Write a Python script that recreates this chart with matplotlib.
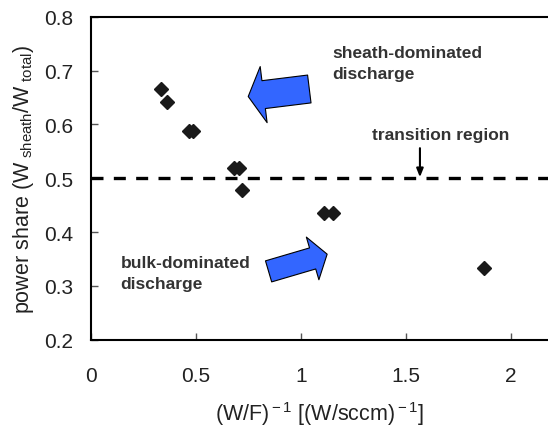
import matplotlib
matplotlib.use("Agg")
import matplotlib.pyplot as plt
from matplotlib.patches import FancyArrowPatch

plt.rcParams["font.family"] = ["Liberation Sans", "DejaVu Sans"]
plt.rcParams["mathtext.fontset"] = "custom"
plt.rcParams["mathtext.rm"] = "Liberation Sans"
plt.rcParams["mathtext.it"] = "Liberation Sans:italic"

# measured points
wf_inv = [0.333, 0.359, 0.464, 0.484, 0.680, 0.702, 0.717, 1.108, 1.154, 1.873]
share = [0.666, 0.641, 0.587, 0.587, 0.520, 0.520, 0.479, 0.436, 0.436, 0.333]

x_ticks = [0, 0.5, 1, 1.5, 2]
x_labels = ["0", "0.5", "1", "1.5", "2"]
y_ticks = [0.2, 0.3, 0.4, 0.5, 0.6, 0.7, 0.8]
y_labels = ["0.2", "0.3", "0.4", "0.5", "0.6", "0.7", "0.8"]
transition = 0.5

fig = plt.figure(figsize=(5.48, 4.31), dpi=100)
ax = fig.add_axes([0.1664, 0.2095, 0.8336, 0.749])

ax.plot(wf_inv, share, "D", ms=7.6, color="#1a1a1a", mec="#1a1a1a", zorder=5)
ax.axhline(transition, color="black", lw=2.4, dashes=(3.6, 3.1), zorder=3)

ax.set_xlim(0, 2.176)
ax.set_ylim(0.2, 0.8)
ax.set_xticks(x_ticks)
ax.set_xticklabels(x_labels)
ax.set_yticks(y_ticks)
ax.set_yticklabels(y_labels)
ax.tick_params(direction="in", length=5, width=1, color="#555555",
               labelsize=15, labelcolor="#222222")
ax.tick_params(axis="x", pad=19)
ax.tick_params(axis="y", pad=13)
for side in ["left", "bottom", "top"]:
    ax.spines[side].set_linewidth(1.5)
ax.spines["right"].set_visible(False)

ax.set_xlabel(r"(W/F)$^{\rm -1}$ [(W/sccm)$^{\rm -1}$]", fontsize=15.5,
              color="#222222", labelpad=10)
ax.set_ylabel(r"power share (W$_{\rm\ sheath}$/W$_{\rm\ total}$)", fontsize=15.5,
              color="#222222", labelpad=6)

# annotations
txt = dict(fontsize=12.5, fontweight="bold", color="#333333", ha="left", va="center",
           linespacing=1.5)
ax.text(1.15, 0.714, "sheath-dominated\ndischarge", **txt)
ax.text(0.14, 0.324, "bulk-dominated\ndischarge", **txt)
ax.text(1.34, 0.5805, "transition region", **txt)

ax.annotate("", xy=(1.566, 0.502), xytext=(1.566, 0.556),
            arrowprops=dict(arrowstyle="-|>,head_length=0.5,head_width=0.2",
                            color="black", lw=1.5, shrinkA=0, shrinkB=0))

for start, tip, tw, hw, hl in [((1.039, 0.666), (0.748, 0.652), 20.2, 40.7, 11.2),
                               ((0.845, 0.327), (1.124, 0.359), 15.8, 32.0, 10.9)]:
    ax.add_patch(FancyArrowPatch(
        start, tip,
        arrowstyle=f"simple,head_length={hl},head_width={hw},tail_width={tw}",
        mutation_scale=1, shrinkA=0, shrinkB=0,
        fc="#3366ff", ec="black", lw=0.8, zorder=4))

fig.savefig("out.png", dpi=100)
